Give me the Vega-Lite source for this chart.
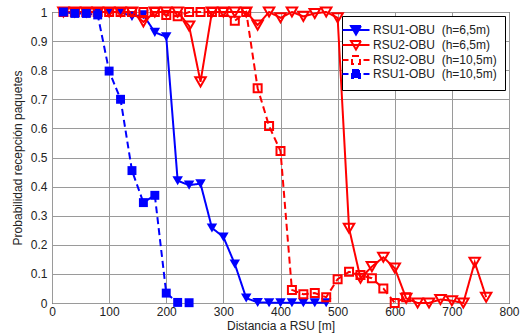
{
  "$schema": "https://vega.github.io/schema/vega-lite/v6.json",
  "width": 457,
  "height": 291,
  "autosize": {"type": "none"},
  "padding": {"left": 52, "top": 12, "right": 14, "bottom": 30},
  "config": {
    "font": "Liberation Sans",
    "view": {"stroke": "#000000", "strokeWidth": 1},
    "axis": {
      "gridColor": "#9a9a9a",
      "gridWidth": 1,
      "gridOpacity": 1,
      "domain": false,
      "ticks": false,
      "labelFont": "Liberation Sans",
      "labelFontSize": 12,
      "labelColor": "#222222",
      "titleFont": "Liberation Sans",
      "titleFontSize": 12,
      "titleFontWeight": "normal",
      "titleColor": "#222222",
      "labelFlush": false,
      "labelOverlap": false
    },
    "legend": {
      "labelFont": "Liberation Sans",
      "labelFontSize": 12,
      "labelColor": "#222222"
    }
  },
  "data": {
    "values": [
      {"s": "RSU1-OBU\u00a0 (h=6,5m)", "d": 20, "p": 1},
      {"s": "RSU1-OBU\u00a0 (h=6,5m)", "d": 40, "p": 1},
      {"s": "RSU1-OBU\u00a0 (h=6,5m)", "d": 60, "p": 1},
      {"s": "RSU1-OBU\u00a0 (h=6,5m)", "d": 80, "p": 1},
      {"s": "RSU1-OBU\u00a0 (h=6,5m)", "d": 100, "p": 1},
      {"s": "RSU1-OBU\u00a0 (h=6,5m)", "d": 120, "p": 1},
      {"s": "RSU1-OBU\u00a0 (h=6,5m)", "d": 140, "p": 0.985},
      {"s": "RSU1-OBU\u00a0 (h=6,5m)", "d": 160, "p": 0.99},
      {"s": "RSU1-OBU\u00a0 (h=6,5m)", "d": 180, "p": 0.93},
      {"s": "RSU1-OBU\u00a0 (h=6,5m)", "d": 200, "p": 0.915},
      {"s": "RSU1-OBU\u00a0 (h=6,5m)", "d": 220, "p": 0.42},
      {"s": "RSU1-OBU\u00a0 (h=6,5m)", "d": 240, "p": 0.405},
      {"s": "RSU1-OBU\u00a0 (h=6,5m)", "d": 260, "p": 0.41},
      {"s": "RSU1-OBU\u00a0 (h=6,5m)", "d": 280, "p": 0.258},
      {"s": "RSU1-OBU\u00a0 (h=6,5m)", "d": 300, "p": 0.227},
      {"s": "RSU1-OBU\u00a0 (h=6,5m)", "d": 320, "p": 0.134},
      {"s": "RSU1-OBU\u00a0 (h=6,5m)", "d": 340, "p": 0.017},
      {"s": "RSU1-OBU\u00a0 (h=6,5m)", "d": 360, "p": 0.002},
      {"s": "RSU1-OBU\u00a0 (h=6,5m)", "d": 380, "p": 0.001},
      {"s": "RSU1-OBU\u00a0 (h=6,5m)", "d": 400, "p": 0.001},
      {"s": "RSU1-OBU\u00a0 (h=6,5m)", "d": 420, "p": 0.001},
      {"s": "RSU1-OBU\u00a0 (h=6,5m)", "d": 440, "p": 0.001},
      {"s": "RSU1-OBU\u00a0 (h=6,5m)", "d": 460, "p": 0.001},
      {"s": "RSU1-OBU\u00a0 (h=6,5m)", "d": 480, "p": 0.001},

      {"s": "RSU2-OBU\u00a0 (h=6,5m)", "d": 20, "p": 1},
      {"s": "RSU2-OBU\u00a0 (h=6,5m)", "d": 40, "p": 1},
      {"s": "RSU2-OBU\u00a0 (h=6,5m)", "d": 60, "p": 1},
      {"s": "RSU2-OBU\u00a0 (h=6,5m)", "d": 80, "p": 1},
      {"s": "RSU2-OBU\u00a0 (h=6,5m)", "d": 100, "p": 1},
      {"s": "RSU2-OBU\u00a0 (h=6,5m)", "d": 120, "p": 1},
      {"s": "RSU2-OBU\u00a0 (h=6,5m)", "d": 140, "p": 1},
      {"s": "RSU2-OBU\u00a0 (h=6,5m)", "d": 160, "p": 0.966},
      {"s": "RSU2-OBU\u00a0 (h=6,5m)", "d": 180, "p": 1},
      {"s": "RSU2-OBU\u00a0 (h=6,5m)", "d": 200, "p": 1},
      {"s": "RSU2-OBU\u00a0 (h=6,5m)", "d": 220, "p": 1},
      {"s": "RSU2-OBU\u00a0 (h=6,5m)", "d": 240, "p": 0.952},
      {"s": "RSU2-OBU\u00a0 (h=6,5m)", "d": 260, "p": 0.76},
      {"s": "RSU2-OBU\u00a0 (h=6,5m)", "d": 280, "p": 1},
      {"s": "RSU2-OBU\u00a0 (h=6,5m)", "d": 300, "p": 1},
      {"s": "RSU2-OBU\u00a0 (h=6,5m)", "d": 320, "p": 1},
      {"s": "RSU2-OBU\u00a0 (h=6,5m)", "d": 340, "p": 1},
      {"s": "RSU2-OBU\u00a0 (h=6,5m)", "d": 360, "p": 0.955},
      {"s": "RSU2-OBU\u00a0 (h=6,5m)", "d": 380, "p": 1},
      {"s": "RSU2-OBU\u00a0 (h=6,5m)", "d": 400, "p": 0.98},
      {"s": "RSU2-OBU\u00a0 (h=6,5m)", "d": 420, "p": 1},
      {"s": "RSU2-OBU\u00a0 (h=6,5m)", "d": 440, "p": 0.985},
      {"s": "RSU2-OBU\u00a0 (h=6,5m)", "d": 460, "p": 0.995},
      {"s": "RSU2-OBU\u00a0 (h=6,5m)", "d": 480, "p": 1},
      {"s": "RSU2-OBU\u00a0 (h=6,5m)", "d": 500, "p": 0.98},
      {"s": "RSU2-OBU\u00a0 (h=6,5m)", "d": 520, "p": 0.257},
      {"s": "RSU2-OBU\u00a0 (h=6,5m)", "d": 540, "p": 0.085},
      {"s": "RSU2-OBU\u00a0 (h=6,5m)", "d": 560, "p": 0.125},
      {"s": "RSU2-OBU\u00a0 (h=6,5m)", "d": 580, "p": 0.157},
      {"s": "RSU2-OBU\u00a0 (h=6,5m)", "d": 600, "p": 0.12},
      {"s": "RSU2-OBU\u00a0 (h=6,5m)", "d": 620, "p": 0.016},
      {"s": "RSU2-OBU\u00a0 (h=6,5m)", "d": 640, "p": 0.0},
      {"s": "RSU2-OBU\u00a0 (h=6,5m)", "d": 660, "p": 0.0},
      {"s": "RSU2-OBU\u00a0 (h=6,5m)", "d": 680, "p": 0.012},
      {"s": "RSU2-OBU\u00a0 (h=6,5m)", "d": 700, "p": 0.008},
      {"s": "RSU2-OBU\u00a0 (h=6,5m)", "d": 720, "p": 0.0},
      {"s": "RSU2-OBU\u00a0 (h=6,5m)", "d": 740, "p": 0.14},
      {"s": "RSU2-OBU\u00a0 (h=6,5m)", "d": 760, "p": 0.02},

      {"s": "RSU2-OBU\u00a0 (h=10,5m)", "d": 20, "p": 1},
      {"s": "RSU2-OBU\u00a0 (h=10,5m)", "d": 40, "p": 1},
      {"s": "RSU2-OBU\u00a0 (h=10,5m)", "d": 60, "p": 1},
      {"s": "RSU2-OBU\u00a0 (h=10,5m)", "d": 80, "p": 1},
      {"s": "RSU2-OBU\u00a0 (h=10,5m)", "d": 100, "p": 1},
      {"s": "RSU2-OBU\u00a0 (h=10,5m)", "d": 120, "p": 1},
      {"s": "RSU2-OBU\u00a0 (h=10,5m)", "d": 140, "p": 1},
      {"s": "RSU2-OBU\u00a0 (h=10,5m)", "d": 160, "p": 1},
      {"s": "RSU2-OBU\u00a0 (h=10,5m)", "d": 180, "p": 1},
      {"s": "RSU2-OBU\u00a0 (h=10,5m)", "d": 200, "p": 0.99},
      {"s": "RSU2-OBU\u00a0 (h=10,5m)", "d": 220, "p": 0.985},
      {"s": "RSU2-OBU\u00a0 (h=10,5m)", "d": 240, "p": 1},
      {"s": "RSU2-OBU\u00a0 (h=10,5m)", "d": 260, "p": 1},
      {"s": "RSU2-OBU\u00a0 (h=10,5m)", "d": 280, "p": 1},
      {"s": "RSU2-OBU\u00a0 (h=10,5m)", "d": 300, "p": 1},
      {"s": "RSU2-OBU\u00a0 (h=10,5m)", "d": 320, "p": 0.97},
      {"s": "RSU2-OBU\u00a0 (h=10,5m)", "d": 340, "p": 1},
      {"s": "RSU2-OBU\u00a0 (h=10,5m)", "d": 360, "p": 0.738},
      {"s": "RSU2-OBU\u00a0 (h=10,5m)", "d": 380, "p": 0.608},
      {"s": "RSU2-OBU\u00a0 (h=10,5m)", "d": 400, "p": 0.522},
      {"s": "RSU2-OBU\u00a0 (h=10,5m)", "d": 420, "p": 0.045},
      {"s": "RSU2-OBU\u00a0 (h=10,5m)", "d": 440, "p": 0.03},
      {"s": "RSU2-OBU\u00a0 (h=10,5m)", "d": 460, "p": 0.034},
      {"s": "RSU2-OBU\u00a0 (h=10,5m)", "d": 480, "p": 0.02},
      {"s": "RSU2-OBU\u00a0 (h=10,5m)", "d": 500, "p": 0.082},
      {"s": "RSU2-OBU\u00a0 (h=10,5m)", "d": 520, "p": 0.107},
      {"s": "RSU2-OBU\u00a0 (h=10,5m)", "d": 540, "p": 0.096},
      {"s": "RSU2-OBU\u00a0 (h=10,5m)", "d": 560, "p": 0.085},
      {"s": "RSU2-OBU\u00a0 (h=10,5m)", "d": 580, "p": 0.05},
      {"s": "RSU2-OBU\u00a0 (h=10,5m)", "d": 600, "p": 0.0},
      {"s": "RSU2-OBU\u00a0 (h=10,5m)", "d": 620, "p": 0.02},

      {"s": "RSU1-OBU\u00a0 (h=10,5m)", "d": 20, "p": 1},
      {"s": "RSU1-OBU\u00a0 (h=10,5m)", "d": 40, "p": 0.995},
      {"s": "RSU1-OBU\u00a0 (h=10,5m)", "d": 60, "p": 0.995},
      {"s": "RSU1-OBU\u00a0 (h=10,5m)", "d": 80, "p": 0.99},
      {"s": "RSU1-OBU\u00a0 (h=10,5m)", "d": 100, "p": 0.797},
      {"s": "RSU1-OBU\u00a0 (h=10,5m)", "d": 120, "p": 0.70},
      {"s": "RSU1-OBU\u00a0 (h=10,5m)", "d": 140, "p": 0.455},
      {"s": "RSU1-OBU\u00a0 (h=10,5m)", "d": 160, "p": 0.345},
      {"s": "RSU1-OBU\u00a0 (h=10,5m)", "d": 180, "p": 0.37},
      {"s": "RSU1-OBU\u00a0 (h=10,5m)", "d": 200, "p": 0.034},
      {"s": "RSU1-OBU\u00a0 (h=10,5m)", "d": 220, "p": 0.002},
      {"s": "RSU1-OBU\u00a0 (h=10,5m)", "d": 240, "p": 0.001}
    ]
  },
  "encoding": {
    "x": {
      "field": "d", "type": "quantitative",
      "scale": {"domain": [0, 800], "nice": false},
      "axis": {"values": [0, 100, 200, 300, 400, 500, 600, 700, 800], "format": "d", "title": "Distancia a RSU [m]", "labelPadding": 3, "titlePadding": 3}
    },
    "y": {
      "field": "p", "type": "quantitative",
      "scale": {"domain": [0, 1], "nice": false},
      "axis": {"values": [0, 0.1, 0.2, 0.3, 0.4, 0.5, 0.6, 0.7, 0.8, 0.9, 1], "format": ".1~f", "title": "Probabilidad recepción paquetes", "labelPadding": 5, "titlePadding": 6}
    }
  },
  "layer": [
    {
      "mark": {"type": "line", "strokeWidth": 2},
      "encoding": {
        "color": {
          "field": "s", "type": "nominal",
          "scale": {
            "domain": ["RSU1-OBU\u00a0 (h=6,5m)", "RSU2-OBU\u00a0 (h=6,5m)", "RSU2-OBU\u00a0 (h=10,5m)", "RSU1-OBU\u00a0 (h=10,5m)"],
            "range": ["#0000ff", "#ff0000", "#ff0000", "#0000ff"]
          },
          "legend": {
            "title": null,
            "orient": "top-right",
            "offset": 4,
            "strokeColor": "#000000",
            "fillColor": "#ffffff",
            "padding": 8,
            "symbolSize": 100,
            "labelOffset": 11,
            "rowPadding": -3,
            "encode": {
              "symbols": {
                "update": {
                  "shape": {"signal": "indexof(datum.value,'10,5')>=0 ? 'M-2.7,0H-1.5M1.5,0H2.7M-0.8,-0.8H0.8V0.8H-0.8Z' : 'M-2.7,0H2.7M-1,-0.8L1,-0.8L0,0.9Z'"},
                  "fill": {"signal": "indexof(datum.value,'RSU1')>=0 ? '#0000ff' : 'transparent'"},
                  "stroke": {"signal": "indexof(datum.value,'RSU1')>=0 ? '#0000ff' : '#ff0000'"},
                  "strokeWidth": {"value": 2},
                  "strokeDash": {"value": []},
                  "opacity": {"value": 1}
                }
              }
            }
          }
        },
        "strokeDash": {
          "field": "s", "type": "nominal",
          "scale": {
            "domain": ["RSU1-OBU\u00a0 (h=6,5m)", "RSU2-OBU\u00a0 (h=6,5m)", "RSU2-OBU\u00a0 (h=10,5m)", "RSU1-OBU\u00a0 (h=10,5m)"],
            "range": [[1, 0], [1, 0], [7, 4], [7, 4]]
          },
          "legend": null
        }
      }
    },
    {
      "transform": [{"filter": "datum.s === 'RSU1-OBU\u00a0 (h=6,5m)'"}],
      "mark": {"type": "point", "shape": "triangle-down", "size": 110, "filled": true, "color": "#0000ff", "opacity": 1}
    },
    {
      "transform": [{"filter": "datum.s === 'RSU2-OBU\u00a0 (h=6,5m)'"}],
      "mark": {"type": "point", "shape": "triangle-down", "size": 110, "filled": false, "stroke": "#ff0000", "strokeWidth": 2, "opacity": 1}
    },
    {
      "transform": [{"filter": "datum.s === 'RSU2-OBU\u00a0 (h=10,5m)'"}],
      "mark": {"type": "point", "shape": "square", "size": 64, "filled": false, "stroke": "#ff0000", "strokeWidth": 2, "opacity": 1}
    },
    {
      "transform": [{"filter": "datum.s === 'RSU1-OBU\u00a0 (h=10,5m)'"}],
      "mark": {"type": "point", "shape": "square", "size": 80, "filled": true, "color": "#0000ff", "opacity": 1}
    }
  ]
}
